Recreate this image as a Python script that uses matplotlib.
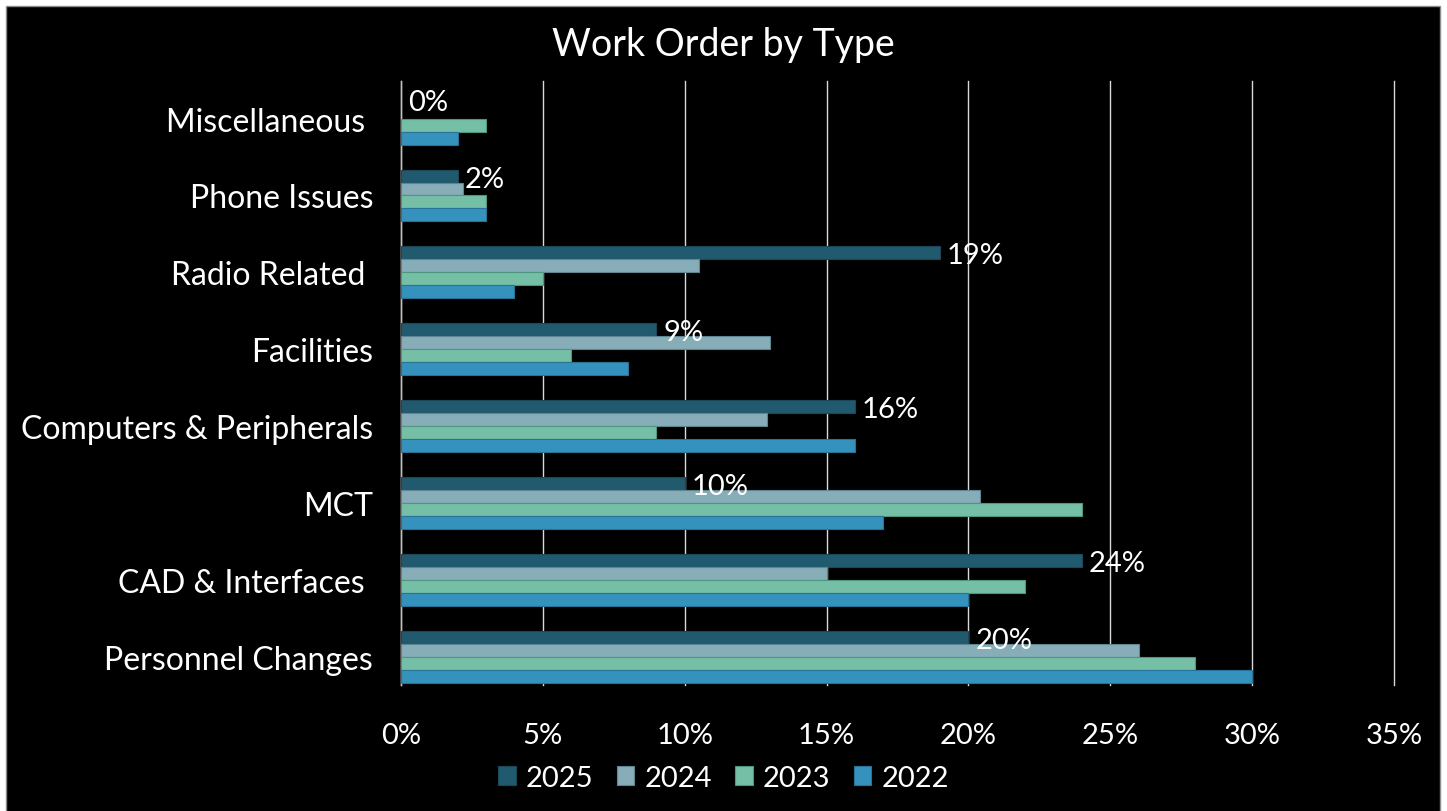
import matplotlib.pyplot as plt
import matplotlib.patches as patches
import numpy as np

# Work order share by type, bottom to top as drawn
categories = ["Personnel Changes", "CAD & Interfaces ", "MCT", "Computers & Peripherals",
              "Facilities", "Radio Related ", "Phone Issues", "Miscellaneous "]
years = ["2025", "2024", "2023", "2022"]
v2025 = [20, 24, 10, 16, 9, 19, 2, 0]
v2024 = [26, 15, 20.4, 12.9, 13, 10.5, 2.2, 0]
v2023 = [28, 22, 24, 9, 6, 5, 3, 3]
v2022 = [30, 20, 17, 16, 8, 4, 3, 2]
labels_2025 = ["20%", "24%", "10%", "16%", "9%", "19%", "2%", "0%"]
xticks = [0, 5, 10, 15, 20, 25, 30, 35]

colors = ["#215a6e", "#86adb8", "#74bfa6", "#3592bd"]
edges = ["#1a4858", "#5f8590", "#4f9680", "#2a7398"]

plt.rcParams['font.family'] = ['Lato', 'DejaVu Sans']

fig = plt.figure(figsize=(14.47, 8.12), dpi=100, facecolor="white")
# black chart area with a thin gray frame
fig.patches.append(patches.Rectangle((6 / 1447, -0.01), 1434 / 1447, (812 - 7) / 812 + 0.01,
                                     transform=fig.transFigure, facecolor="black",
                                     edgecolor="#8c8c8c", linewidth=1, zorder=-10))

ax = fig.add_axes([401 / 1447, 1 - 686 / 812, (1394 - 401) / 1447, (686 - 82) / 812])
ax.set_facecolor("black")

y = np.arange(len(categories))
h = 0.169
series = [v2025, v2024, v2023, v2022]
for k, vals in enumerate(series):
    offs = (1.5 - k) * h
    lw = [0 if v == 0 else 0.8 for v in vals]  # no edge stub for empty bars
    ax.barh(y + offs, vals, height=h, color=colors[k], edgecolor=edges[k],
            linewidth=lw, label=years[k], zorder=3)

# data labels on the 2025 series
for i, val in enumerate(v2025):
    ax.annotate(labels_2025[i], (val, y[i] + 1.3 * h), xytext=(5, 0),
                textcoords="offset points", ha="left", va="center",
                color="white", fontsize=21, zorder=5)

ax.set_xlim(0, 35)
ax.set_ylim(-0.37, 7.49)
ax.set_xticks(xticks)
ax.set_xticklabels([f"{t}%" for t in xticks])
ax.set_yticks(y)
ax.set_yticklabels(categories)
ax.tick_params(axis="x", colors="white", labelsize=21, length=0, pad=27)
ax.tick_params(axis="y", colors="white", labelsize=23, length=0, pad=20)
ax.grid(axis="x", color="#d9d9d9", linewidth=1, zorder=0)
for gl in ax.get_xgridlines():
    gl.set_clip_on(False)
for s in ["top", "right", "bottom"]:
    ax.spines[s].set_visible(False)
ax.spines["left"].set_color("#bfbfbf")
ax.spines["left"].set_linewidth(1)

fig.text(0.5, 1 - 45 / 812, "Work Order by Type", ha="center", va="center",
         color="white", fontsize=27)

ax.legend(loc="center", ncol=4, frameon=False, fontsize=21, labelcolor="white",
          handlelength=0.6, handleheight=0.6, handletextpad=0.35, columnspacing=0.8,
          bbox_to_anchor=(0.5, 1 - 779 / 812), bbox_transform=fig.transFigure)

fig.savefig("out.png", dpi=100, facecolor="white")
